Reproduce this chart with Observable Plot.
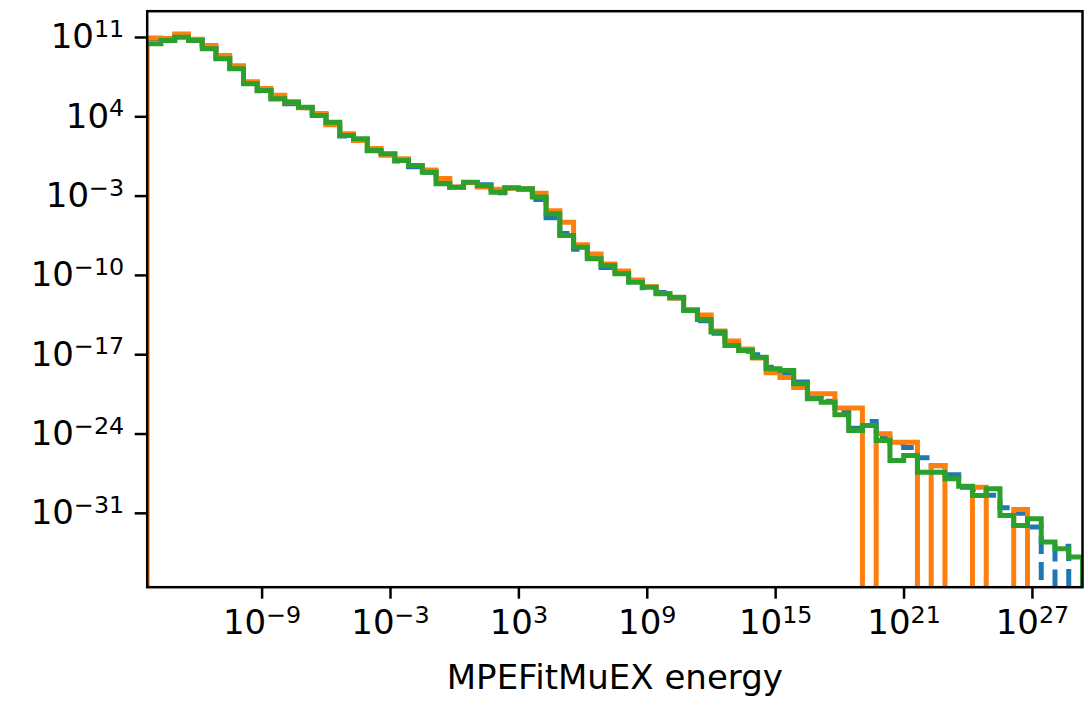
<!DOCTYPE html>
<html>
<head>
<meta charset="utf-8">
<script src="https://cdn.jsdelivr.net/npm/d3@7"></script>
<script src="https://cdn.jsdelivr.net/npm/@observablehq/plot@0.6"></script>
<style>
  html, body { margin: 0; padding: 0; background: white; }
</style>
</head>
<body>
<div id="chart"></div>
<script>
// ---- bin layout (log10 of energy) ----
const binLog10Min = -14.37;
const binLog10Max = 29.34;
const binCount = 68;

// ---- histogram heights, given as log10(value); null = empty bin ----
const seriesBlueLog10 = [
  10.9, 10.8, 11.1, 10.8, 10.1, 9.2, 8.3, 7.0, 6.3, 5.6,
  5.15, 4.8, 4.2, 3.4, 2.3, 2.0, 1.0, 0.7, 0.1, -0.4,
  -0.9, -1.8, -2.2, -1.8, -2.0, -2.7, -2.3, -2.4, -3.3, -4.9,
  -6.3, -7.7, -8.4, -9.3, -9.8, -10.5, -11.1, -11.5, -12.0, -13.0,
  -14.0, -15.1, -16.0, -16.7, -17.0, -18.1, -18.6, -19.4, -20.6, -21.1,
  -22.0, -23.5, -22.9, -24.3, -24.8, -25.2, -26.1, -26.8, -27.6, -28.7,
  -28.9, -29.4, -30.5, -31.0, -32.2, null, -33.9, null
];
const seriesOrangeLog10 = [
  10.95, 10.9, 11.3, 10.85, 10.3, 9.4, 8.5, 7.1, 6.5, 5.9,
  5.3, 4.8, 4.3, 3.3, 2.5, 1.9, 1.2, 0.6, 0.3, -0.3,
  -0.7, -1.45, -2.2, -1.8, -2.2, -2.4, -2.3, -2.35, -2.75, -4.3,
  -5.3, -7.3, -8.1, -9.0, -9.6, -10.4, -11.0, -11.6, -12.0, -13.0,
  -13.5, -14.9, -15.8, -16.5, -17.3, -18.6, -19.0, -19.9, -20.45, -20.45,
  -21.7, -21.7, null, -23.98, -24.72, -24.72, null, -26.78, null, null,
  -28.69, null, null, -30.66, null, null, null, null
];
const seriesGreenLog10 = [
  10.45, 10.74, 11.03, 10.74, 10.0, 9.12, 8.24, 6.91, 6.32, 5.59,
  5.3, 4.85, 4.12, 3.52, 2.35, 2.06, 1.03, 0.74, 0.14, -0.30,
  -0.89, -1.91, -2.21, -1.77, -2.06, -2.65, -2.27, -2.35, -3.09, -4.56,
  -6.48, -7.51, -8.53, -9.12, -9.86, -10.6, -11.04, -11.62, -11.92, -13.1,
  -13.9, -15.0, -16.19, -16.63, -17.22, -18.24, -18.39, -19.57, -20.89, -21.19,
  -22.3, -23.69, -23.25, -24.57, -26.34, -25.89, -27.37, -27.37, -27.95, -28.6,
  -29.43, -28.84, -31.19, -32.07, -31.48, -33.54, -34.13, -34.86
];

// ---- axes ----
const xTickExponents = [-9, -3, 3, 9, 15, 21, 27];
const yTickExponents = [11, 4, -3, -10, -17, -24, -31];
const yLog10Domain = [-37.52, 13.32];
const xLabel = "MPEFitMuEX energy";
const colors = {blue: "#1f77b4", orange: "#ff7f0e", green: "#2ca02c"};

// ---- build step outlines (matplotlib histtype="step") ----
const FLOOR = 1e-45; // empty bins fall below the axis and get clipped
const step = (binLog10Max - binLog10Min) / binCount;
const edges = d3.range(binCount + 1).map(i => 10 ** (binLog10Min + i * step));

function stepOutline(vals, startFromFloor) {
  const pts = [];
  if (startFromFloor) pts.push({x: edges[0], y: FLOOR});
  vals.forEach((v, i) => {
    const y = v === null ? FLOOR : 10 ** v;
    pts.push({x: edges[i], y});
    pts.push({x: edges[i + 1], y});
  });
  pts.push({x: edges[binCount], y: FLOOR});
  return pts;
}
const bluePts = stepOutline(seriesBlueLog10, false);
const orangePts = stepOutline(seriesOrangeLog10, true);
const greenPts = stepOutline(seriesGreenLog10, false);

const lineOpts = {x: "x", y: "y", strokeWidth: 5, clip: true, curve: "linear",
  strokeLinejoin: "miter", strokeMiterlimit: 4, strokeLinecap: "butt"};

const expFmt = d => "10^" + Math.round(Math.log10(d));

const chart = Plot.plot({
  width: 1088,
  height: 710,
  marginLeft: 146.7,
  marginRight: 6,
  marginTop: 10.7,
  marginBottom: 123.3,
  style: {fontFamily: "'DejaVu Sans', sans-serif", fontSize: "34px", background: "white", color: "black"},
  x: {type: "log", domain: [edges[0], edges[binCount]]},
  y: {type: "log", domain: [10 ** yLog10Domain[0], 10 ** yLog10Domain[1]]},
  marks: [
    Plot.line(bluePts, {...lineOpts, stroke: colors.blue, strokeDasharray: "18,8"}),
    Plot.line(orangePts, {...lineOpts, stroke: colors.orange}),
    Plot.line(greenPts, {...lineOpts, stroke: colors.green}),
    Plot.axisX({ticks: xTickExponents.map(e => 10 ** e), tickFormat: expFmt, tickSize: 12,
      tickPadding: 11, strokeWidth: 2.5, label: null}),
    Plot.axisY({ticks: yTickExponents.map(e => 10 ** e), tickFormat: expFmt, tickSize: 12,
      tickPadding: 11, strokeWidth: 2.5, label: null}),
    Plot.text([xLabel], {text: d => d, frameAnchor: "bottom", dy: 102, fontSize: 34}),
    Plot.frame({stroke: "black", strokeWidth: 2.5})
  ]
});

// render exponents as superscripts like matplotlib mathtext
const SVGNS = "http://www.w3.org/2000/svg";
chart.querySelectorAll('g[aria-label="x-axis tick label"] text, g[aria-label="y-axis tick label"] text')
  .forEach(t => {
    const m = /^10\^(.+)$/.exec(t.textContent);
    if (!m) return;
    t.textContent = "10";
    const ts = document.createElementNS(SVGNS, "tspan");
    ts.setAttribute("dy", "-0.47em");
    ts.style.fontSize = "0.7em";
    ts.textContent = m[1].replace("-", "\u2212");
    t.appendChild(ts);
  });
chart.querySelectorAll('g[aria-label="x-axis tick"], g[aria-label="y-axis tick"]').forEach(g => {
  g.setAttribute("stroke-width", "2.5");
  g.setAttribute("stroke", "black");
});

document.getElementById("chart").appendChild(chart);
</script>
</body>
</html>
